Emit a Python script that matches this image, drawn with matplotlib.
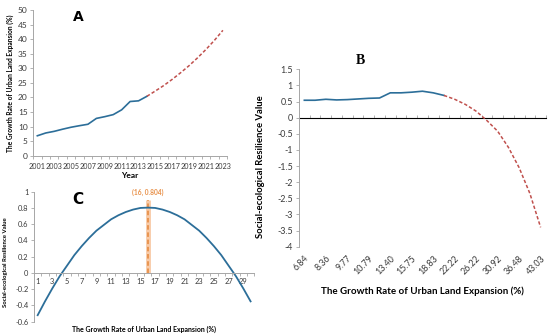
import numpy as np
import matplotlib
matplotlib.use('Agg')
import matplotlib.pyplot as plt

plt.rcParams['font.family'] = ['Lato', 'DejaVu Sans']

# ---- datos ----
years = list(range(2001, 2024))
# tasa de crecimiento (%) por año; observado hasta 2014, proyectado después
growth = [6.84, 7.80, 8.36, 9.10, 9.77, 10.30, 10.79, 12.80, 13.40, 14.10,
          15.75, 18.60, 18.83, 20.40, 22.22, 24.10, 26.22, 28.50, 30.92, 33.60,
          36.48, 39.60, 43.03]
n_obs = 14  # 2001-2014

# panel B: resiliencia frente a la tasa de crecimiento (categorías)
res_obs = [0.54, 0.54, 0.57, 0.55, 0.56, 0.58, 0.60, 0.61, 0.77, 0.77,
           0.79, 0.82, 0.77, 0.69]
res_pred = [0.69, 0.57, 0.41, 0.20, -0.09, -0.42, -0.92, -1.55, -2.35, -3.40]

# panel C: curva ajustada
c_x = list(range(1, 31))
c_y = [-0.52, -0.35, -0.19, -0.04, 0.09, 0.22, 0.33, 0.43, 0.52, 0.59,
       0.66, 0.71, 0.75, 0.78, 0.80, 0.804, 0.80, 0.78, 0.75, 0.71,
       0.66, 0.59, 0.52, 0.43, 0.33, 0.22, 0.09, -0.04, -0.19, -0.35]
peak_x, peak_y = 16, 0.804
peak_top = 0.9

blue = '#2C6E99'
red = '#C0504D'
grey = '#A6A6A6'
txt = '#3A3A3A'
xlab = 'The Growth Rate of Urban Land Expansion (%)'
ylab = 'Social-ecological Resilience Value'

fig = plt.figure(figsize=(5.5, 3.36), dpi=100)

# ---------------- Panel A ----------------
axA = fig.add_axes([0.0602, 0.5366, 0.3527, 0.4336])
axA.plot(years[:n_obs], growth[:n_obs], color=blue, lw=1.2)
axA.plot(years[n_obs - 1:], growth[n_obs - 1:], color=red, lw=1.1, ls=(0, (2.2, 1.4)))
axA.set_xlim(2000.5, 2023.5)
axA.set_ylim(0, 50)
axA.set_yticks(np.arange(0, 51, 5))
axA.set_xticks(years[::2])
axA.set_xticks(np.arange(2000.5, 2024, 1), minor=True)
axA.tick_params(axis='x', which='major', length=0, labelsize=5.2, colors=txt, pad=5)
axA.tick_params(axis='x', which='minor', length=2, color=grey, width=0.6)
axA.tick_params(axis='y', length=2, labelsize=6, colors=txt, color=grey, width=0.6, pad=2)
for s in ['top', 'right']:
    axA.spines[s].set_visible(False)
for s in ['left', 'bottom']:
    axA.spines[s].set_color(grey)
    axA.spines[s].set_linewidth(0.7)
axA.set_xlabel('Year', fontsize=6, fontweight='bold', labelpad=2)
axA.set_ylabel(xlab, fontsize=4.8, fontweight='bold', labelpad=3)
axA.text(0.235, 0.95, 'A', transform=axA.transAxes, fontsize=10, fontweight='bold',
         family='DejaVu Sans', ha='center', va='center')

# ---------------- Panel B ----------------
axB = fig.add_axes([0.5436, 0.2658, 0.4491, 0.528])
cats = np.arange(len(growth))
axB.plot(cats[:n_obs], res_obs, color=blue, lw=1.2)
axB.plot(cats[n_obs - 1:], res_pred, color=red, lw=1.1, ls=(0, (2.2, 1.4)))
axB.set_xlim(-0.5, len(growth) - 0.5)
axB.set_ylim(-4, 1.5)
axB.set_yticks(np.arange(-4, 1.6, 0.5))
axB.set_yticklabels(['%g' % v for v in np.arange(-4, 1.6, 0.5)])
axB.set_xticks(cats[::2])
axB.set_xticklabels(['%.2f' % g for g in growth[::2]], rotation=45, ha='right',
                    va='top', rotation_mode='anchor')
axB.tick_params(axis='x', length=0, labelsize=6.4, colors=txt, pad=5)
axB.tick_params(axis='y', length=2.5, labelsize=6.4, colors=txt, color=grey, width=0.6, pad=2)
for s in ['top', 'right', 'bottom']:
    axB.spines[s].set_visible(False)
axB.spines['left'].set_color(grey)
axB.spines['left'].set_linewidth(0.7)
zeroB = axB.secondary_xaxis(4 / 5.5)
zeroB.set_xticks(np.arange(-0.5, len(growth), 1))
zeroB.set_xticklabels([])
zeroB.tick_params(length=2.5, color=grey, width=0.6, direction='out')
zeroB.spines['bottom'].set_color(grey)
zeroB.spines['bottom'].set_linewidth(0.7)
axB.set_xlabel(xlab, fontsize=7, fontweight='bold')
axB.xaxis.set_label_coords(0.5, -0.225)
axB.set_ylabel(ylab, fontsize=6.8, fontweight='bold')
axB.yaxis.set_label_coords(-0.138, 0.452)
axB.text(0.25, 1.05, 'B', transform=axB.transAxes, fontsize=10, fontweight='bold',
         family='Liberation Serif', ha='center', va='center')

# ---------------- Panel C ----------------
axC = fig.add_axes([0.0618, 0.0426, 0.4005, 0.3869])
axC.vlines(peak_x, 0, peak_top, color='#F8CBA8', lw=3.5)
axC.vlines(peak_x, 0, peak_top, color='#E8914A', lw=1.3, ls=(0, (2.5, 1.5)))
axC.plot(c_x, c_y, color=blue, lw=1.3)
axC.text(peak_x, peak_top + 0.045, '(%d, %.3f)' % (peak_x, peak_y), color='#E8914A',
         fontsize=4.8, fontweight='bold', ha='center', va='bottom')
axC.set_xlim(0.5, 30.5)
axC.set_ylim(-0.6, 1)
axC.set_yticks(np.arange(-0.6, 1.01, 0.2))
axC.set_yticklabels(['%g' % round(v, 1) for v in np.arange(-0.6, 1.01, 0.2)])
axC.set_xticks(c_x[::2])
axC.set_xticks(np.arange(0.5, 31, 1), minor=True)
axC.spines['bottom'].set_position(('data', 0))
axC.tick_params(axis='x', which='major', length=0, labelsize=5.4, colors=txt, pad=4)
axC.tick_params(axis='x', which='minor', length=2, color=grey, width=0.6)
axC.tick_params(axis='y', length=2, labelsize=5.4, colors=txt, color=grey, width=0.6, pad=2)
for s in ['top', 'right']:
    axC.spines[s].set_visible(False)
for s in ['left', 'bottom']:
    axC.spines[s].set_color(grey)
    axC.spines[s].set_linewidth(0.7)
axC.set_xlabel(xlab, fontsize=5, fontweight='bold')
axC.xaxis.set_label_coords(0.5, -0.03)
axC.set_ylabel(ylab, fontsize=4.3, fontweight='bold')
axC.yaxis.set_label_coords(-0.12, 0.46)
axC.text(0.2, 0.94, 'C', transform=axC.transAxes, fontsize=11, fontweight='bold',
         family='DejaVu Sans', ha='center', va='center')

fig.savefig('out.png', dpi=100)
